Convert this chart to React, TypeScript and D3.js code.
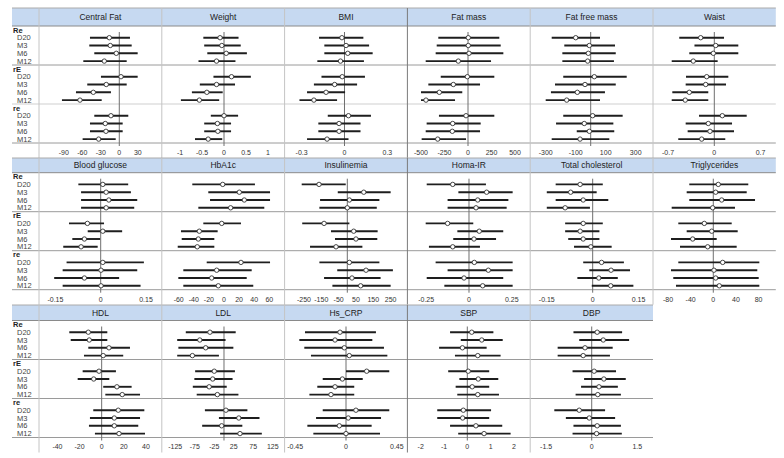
import React from 'react';
import * as d3 from 'd3';

const groups = ['Re', 'rE', 're'];
const timepoints = ['D20', 'M3', 'M6', 'M12'];

// [low, mean, high] for Re D20..M12, rE D20..M12, re D20..M12
const centralFat = [
  [-47.5, -16.2, 17.3], [-48.6, -14.6, 20.1], [-40.5, -4.9, 29.8], [-58.3, -24.3, 12],
  [-29.7, 2.8, 29.8], [-51.9, -21.1, 12], [-70.2, -42.1, -13.5], [-92.9, -63.7, -28.5],
  [-40.5, -13.5, 14.6], [-47.5, -22.7, 5.5], [-47.5, -21.6, 5.5], [-59.4, -33.4, -5.8],
];
const weight = [
  [-0.47, -0.09, 0.33], [-0.45, -0.05, 0.38], [-0.38, 0.05, 0.52], [-0.58, -0.17, 0.26],
  [-0.24, 0.17, 0.61], [-0.55, -0.17, 0.25], [-0.73, -0.39, -0.03], [-0.98, -0.56, -0.11],
  [-0.3, 0, 0.32], [-0.45, -0.15, 0.16], [-0.45, -0.14, 0.16], [-0.66, -0.36, -0.04],
];
const bmi = [
  [-0.178, -0.018, 0.132], [-0.141, 0.011, 0.172], [-0.141, 0.023, 0.197], [-0.19, -0.028, 0.136],
  [-0.161, -0.016, 0.143], [-0.214, -0.069, 0.088], [-0.262, -0.129, 0.004], [-0.315, -0.214, -0.052],
  [-0.117, 0.028, 0.185], [-0.183, -0.038, 0.112], [-0.183, -0.038, 0.112], [-0.262, -0.122, 0.028],
];
const fatMass = [
  [-316, 3, 333], [-333, 3, 348], [-344, 11, 376], [-450, -103, 245],
  [-290, -7, 280], [-422, -156, 128], [-500, -305, -61], [-500, -447, -138],
  [-309, -21, 280], [-440, -163, 135], [-450, -167, 128], [-493, -322, -21],
];
const fatFreeMass = [
  [-260, -100, 62], [-176, -9, 162], [-189, -16, 167], [-189, -20, 155],
  [-183, 24, 240], [-238, -38, 167], [-265, -89, 95], [-300, -160, 62],
  [-183, 13, 213], [-231, -43, 151], [-93, -9, 157], [-260, -71, 124],
];
const waist = [
  [-0.53, -0.206, 0.147], [-0.3, 0.021, 0.363], [-0.378, -0.015, 0.363], [-0.644, -0.318, 0.051],
  [-0.428, -0.115, 0.212], [-0.433, -0.13, 0.177], [-0.635, -0.378, -0.091], [-0.644, -0.439, -0.091],
  [-0.231, 0.121, 0.49], [-0.433, -0.091, 0.268], [-0.403, -0.065, 0.298], [-0.545, -0.191, 0.166],
];
const bloodGlucose = [
  [-0.074, 0.007, 0.091], [-0.065, 0.018, 0.1], [-0.065, 0.027, 0.121], [-0.065, 0.018, 0.111],
  [-0.105, -0.044, 0.011], [-0.043, 0.007, 0.071], [-0.094, -0.054, -0.002], [-0.124, -0.065, -0.01],
  [-0.113, 0.007, 0.143], [-0.126, 0.001, 0.121], [-0.154, -0.054, 0.061], [-0.126, 0.001, 0.132],
];
const hba1c = [
  [-42, -1.7, 41], [-20.8, 20.3, 61], [-18.5, 26.9, 61], [-34, 8.8, 53.4],
  [-27.4, -3, 22.5], [-57, -32.7, -8.4], [-56, -34, -12.8], [-61.3, -35.4, -12.8],
  [-22.9, 22.5, 61], [-53.9, -9.7, 36.7], [-60.5, -16.3, 30.1], [-53.9, -7.5, 38.8],
];
const insulinemia = [
  [-263, -163, -9], [-55, 95, 250], [-157, 12, 185], [-161, 0, 170],
  [-260, -134, 12], [-94, 37, 175], [-71, 50, 173], [-215, -65, 87],
  [-161, 12, 185], [-58, 108, 263], [-134, 27, 192], [-86, 77, 250],
];
const homaIR = [
  [-0.247, -0.095, 0.099], [-0.062, 0.103, 0.255], [-0.125, 0.051, 0.23], [-0.125, 0.041, 0.22],
  [-0.253, -0.125, 0.025], [-0.068, 0.06, 0.2], [-0.092, 0.029, 0.158], [-0.234, -0.095, 0.064],
  [-0.195, 0.031, 0.255], [-0.125, 0.113, 0.255], [-0.247, -0.029, 0.2], [-0.144, 0.08, 0.255],
];
const totalCholesterol = [
  [-0.121, -0.041, 0.033], [-0.15, -0.072, 0.013], [-0.121, -0.031, 0.051], [-0.15, -0.09, -0.009],
  [-0.09, -0.031, 0.033], [-0.09, -0.041, 0.022], [-0.08, -0.031, 0.022], [-0.061, -0.006, 0.062],
  [-0.031, 0.029, 0.102], [-0.011, 0.06, 0.122], [-0.05, 0.02, 0.082], [-0.003, 0.059, 0.133],
];
const triglycerides = [
  [-42.4, 8.8, 61.8], [-47, 4.2, 59], [-42.4, 14.8, 73.7], [-73.5, -1.1, 38.3],
  [-61.8, -15.9, 32.5], [-47, -2.8, 43.1], [-74.7, -36.4, 6], [-58.8, -9.9, 41.3],
  [-61.8, 16.6, 81.3], [-74.7, 1.2, 77.7], [-70.7, 4.2, 80.2], [-65.9, 10.6, 81.3],
];
const hdl = [
  [-29.3, -12.1, 5.1], [-28, -11.2, 5.1], [-12.1, 6.6, 25.6], [-16, 1.4, 19.5],
  [-17.2, -2.4, 12.9], [-21.7, -7.2, 6.9], [1.4, 13.8, 27.1], [3.3, 18.6, 34.7],
  [-7.6, 15, 38.6], [-10.6, 11.4, 34.7], [-11.5, 11.4, 33.1], [-6.1, 15.7, 39.2],
];
const ldl = [
  [-98, -36, 30], [-120, -62, 4], [-117, -47, 24], [-120, -81, -13],
  [-74, -25, 28], [-76, -29, 22], [-80, -38, 7], [-70, -17, 37],
  [-49, 5, 60], [-13, 38, 91], [-56, -6, 47], [-10, 41, 97],
];
const hsCrp = [
  [-0.363, -0.053, 0.265], [-0.413, -0.097, 0.233], [-0.369, -0.015, 0.336], [-0.31, 0.029, 0.366],
  [0, 0.183, 0.383], [-0.206, -0.032, 0.148], [-0.254, -0.097, 0.073], [-0.324, -0.133, 0.073],
  [-0.206, 0.088, 0.383], [-0.265, 0.02, 0.31], [-0.342, -0.059, 0.227], [-0.289, 0, 0.301],
];
const sbp = [
  [-0.74, 0.19, 1.12], [-0.28, 0.62, 1.52], [-1.21, -0.21, 0.83], [-0.53, 0.45, 1.43],
  [-0.82, 0.04, 0.94], [-0.34, 0.47, 1.33], [-0.5, 0.21, 0.94], [-0.43, 0.45, 1.36],
  [-1.29, -0.17, 1.02], [-1.29, -0.2, 0.94], [-0.74, 0.37, 1.5], [-0.39, 0.72, 1.86],
];
const dbp = [
  [-0.6, 0.18, 1.0], [-0.41, 0.38, 1.23], [-1.12, -0.22, 0.69], [-1.12, -0.28, 0.6],
  [-0.63, 0.08, 0.8], [-0.25, 0.4, 1.12], [-0.35, 0.24, 0.86], [-0.53, 0.2, 0.96],
  [-1.23, -0.41, 0.44], [-0.85, -0.08, 0.77], [-0.6, 0.18, 0.96], [-0.63, 0.16, 0.99],
];

const titles = [
  ['Central Fat', 'Weight', 'BMI', 'Fat mass', 'Fat free mass', 'Waist'],
  ['Blood glucose', 'HbA1c', 'Insulinemia', 'Homa-IR', 'Total cholesterol', 'Triglycerides'],
  ['HDL', 'LDL', 'Hs_CRP', 'SBP', 'DBP'],
];
const series = [
  [centralFat, weight, bmi, fatMass, fatFreeMass, waist],
  [bloodGlucose, hba1c, insulinemia, homaIR, totalCholesterol, triglycerides],
  [hdl, ldl, hsCrp, sbp, dbp],
];
const domains = [
  [[-130.1, 68.9], [-1.414, 1.377], [-0.419, 0.44], [-644.7, 661.7], [-403.3, 415.3], [-0.927, 0.93]],
  [[-0.2043, 0.2023], [-82.4, 80.3], [-361.6, 346.6], [-0.3598, 0.3575], [-0.2042, 0.1971], [-106.5, 110.4]],
  [[-56.7, 54.4], [-159.5, 155.4], [-0.5434, 0.5434], [-2.571, 2.7], [-2.023, 2.016]],
];
const ticks = [
  [[-90, -60, -30, 0, 30], [-1, -0.5, 0, 0.5, 1], [-0.3, 0, 0.3], [-500, -250, 0, 250, 500], [-300, -100, 100, 300], [-0.7, 0, 0.7]],
  [[-0.15, 0, 0.15], [-60, -40, -20, 0, 20, 40, 60], [-250, -150, -50, 50, 150, 250], [-0.25, 0, 0.25], [-0.15, 0, 0.15], [-80, -40, 0, 40, 80]],
  [[-40, -20, 0, 20, 40], [-125, -75, -25, 25, 75, 125], [-0.45, 0, 0.45], [-2, -1, 0, 1, 2], [-1.5, 0, 1.5]],
];

// layout
const LEFT = 12;
const LABEL_W = 27;
const PANEL_W = 122.8;
const ROW_TOP = [8, 158, 305];
const HEADER_H = [18, 14.7, 15.5];
const SUB_H = 7.8;
const GROUP_H = SUB_H * 5;
const AXIS_H = 15;
const FONT = '"Liberation Sans", Arial, sans-serif';

export default function App() {
  const els: React.ReactNode[] = [];
  titles.forEach((rowTitles, r) => {
    const top = ROW_TOP[r];
    const bodyTop = top + HEADER_H[r];
    const bodyBottom = bodyTop + GROUP_H * 3;
    const rowBottom = bodyBottom + AXIS_H;
    const x0 = LEFT + LABEL_W;
    const xEnd = x0 + rowTitles.length * PANEL_W;
    els.push(
      <rect key={`h${r}`} x={LEFT} y={top} width={xEnd - LEFT} height={HEADER_H[r]} fill="#c6d9f1" />,
      <line key={`ht${r}`} x1={LEFT} x2={xEnd} y1={top} y2={top} stroke="#aaa" strokeWidth={1} />,
      <line key={`hb${r}`} x1={LEFT} x2={xEnd} y1={bodyTop} y2={bodyTop} stroke="#8a8a8a" strokeWidth={1} />
    );
    groups.forEach((g, gi) => {
      const gy = bodyTop + gi * GROUP_H;
      const sepY = gy + GROUP_H;
      els.push(
        <line key={`gs${r}-${gi}`} x1={LEFT} x2={xEnd} y1={sepY} y2={sepY}
          stroke={r === 0 && gi === 1 ? '#cfcfcf' : '#9a9a9a'} strokeWidth={1} />,
        <text key={`gl${r}-${gi}`} x={LEFT + 1} y={gy + SUB_H * 0.5} dy="0.35em" fontSize={7.5}
          fontWeight="bold" fill="#222" fontFamily={FONT}>{g}</text>
      );
      timepoints.forEach((t, ti) => {
        els.push(
          <text key={`tl${r}-${gi}-${ti}`} x={LEFT + 5} y={gy + SUB_H * (ti + 1.5)} dy="0.35em" fontSize={7.5}
            fill="#444" fontFamily={FONT}>{t}</text>
        );
      });
    });
    // vertical separators
    for (let i = 0; i <= rowTitles.length - 1; i++) {
      const x = x0 + i * PANEL_W;
      els.push(
        <line key={`vs${r}-${i}`} x1={x} x2={x} y1={top} y2={rowBottom}
          stroke={i === 3 ? '#7a7a7a' : '#c4c4c4'} strokeWidth={1} />
      );
    }
    rowTitles.forEach((title, p) => {
      const px = x0 + p * PANEL_W;
      const xs = d3.scaleLinear().domain(domains[r][p]).range([px, px + PANEL_W]);
      const data = series[r][p];
      els.push(
        <text key={`t${r}-${p}`} x={px + PANEL_W / 2} y={top + HEADER_H[r] / 2} dy="0.35em" textAnchor="middle"
          fontSize={8.5} fill="#222" fontFamily={FONT}>{title}</text>
      );
      if (!(r === 1 && p === 1)) {
        els.push(
          <line key={`z${r}-${p}`} x1={xs(0)} x2={xs(0)} y1={bodyTop + 6} y2={bodyBottom + 3}
            stroke="#6f6f6f" strokeWidth={1} />
        );
      }
      ticks[r][p].forEach((tv, k) => {
        els.push(
          <text key={`tk${r}-${p}-${k}`} x={xs(tv)} y={bodyBottom + 9.5} dy="0.35em" textAnchor="middle"
            fontSize={7} fill="#333" fontFamily={FONT}>{String(tv)}</text>
        );
      });
      data.forEach((d, i) => {
        const gi = Math.floor(i / 4);
        const ti = i % 4;
        const y = bodyTop + gi * GROUP_H + SUB_H * (ti + 1.5);
        els.push(
          <line key={`b${r}-${p}-${i}`} x1={xs(d[0])} x2={xs(d[2])} y1={y} y2={y} stroke="#1e1e1e" strokeWidth={1.9} />,
          <circle key={`c${r}-${p}-${i}`} cx={xs(d[1])} cy={y} r={2.2} fill="#fff" stroke="#333" strokeWidth={0.9} />
        );
      });
    });
  });
  return (
    <svg width={784} height={458} style={{ position: 'absolute', left: 0, top: 0, background: '#fff' }}>
      <rect x={0} y={0} width={784} height={458} fill="#fff" />
      {els}
    </svg>
  );
}
